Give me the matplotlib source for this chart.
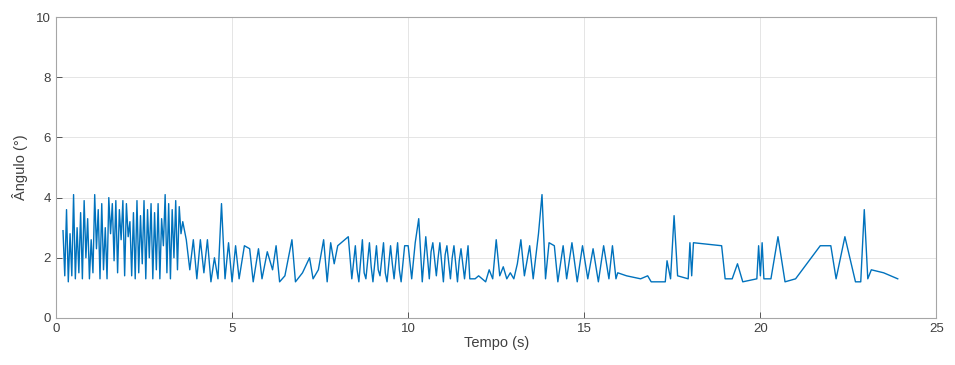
import matplotlib.pyplot as plt

# tempo (s) e angulo (graus)
tempo = [0.2, 0.25, 0.3, 0.35, 0.4, 0.45, 0.5, 0.55, 0.6, 0.65, 0.7, 0.75, 0.8, 0.85,
         0.9, 0.95, 1.0, 1.05, 1.1, 1.15, 1.2, 1.25, 1.3, 1.35, 1.4, 1.45, 1.5, 1.55,
         1.6, 1.65, 1.7, 1.75, 1.8, 1.85, 1.9, 1.95, 2.0, 2.05, 2.1, 2.15, 2.2, 2.25,
         2.3, 2.35, 2.4, 2.45, 2.5, 2.55, 2.6, 2.65, 2.7, 2.75, 2.8, 2.85, 2.9, 2.95,
         3.0, 3.05, 3.1, 3.15, 3.2, 3.25, 3.3, 3.35, 3.4, 3.45, 3.5, 3.55, 3.6,
         3.7, 3.8, 3.9, 4.0, 4.1, 4.2, 4.3, 4.4, 4.5, 4.6, 4.7, 4.8,
         4.9, 5.0, 5.1, 5.2, 5.35, 5.5, 5.6, 5.75, 5.85, 6.0, 6.15, 6.25, 6.35, 6.5, 6.6,
         6.7, 6.8, 7.0, 7.2, 7.3, 7.45, 7.6, 7.7, 7.8, 7.9, 8.0, 8.1, 8.3, 8.4, 8.5, 8.55,
         8.6, 8.7, 8.75, 8.8, 8.9, 8.95, 9.0, 9.1, 9.15, 9.2, 9.3, 9.35, 9.4, 9.5, 9.55,
         9.6, 9.7, 9.75, 9.8, 9.9, 10.0, 10.1, 10.2,
         10.3, 10.4, 10.5, 10.6, 10.65, 10.7, 10.8, 10.85, 10.9, 11.0, 11.05, 11.1, 11.2,
         11.25, 11.3, 11.4, 11.45, 11.5, 11.6,
         11.7, 11.75, 11.9, 12.0, 12.2, 12.3, 12.4, 12.5, 12.6, 12.7, 12.8, 12.9, 13.0, 13.1,
         13.2, 13.3, 13.45, 13.55, 13.7, 13.8, 13.9, 14.0, 14.15, 14.25, 14.4, 14.5, 14.65,
         14.8, 14.95, 15.1, 15.25, 15.4, 15.55, 15.7, 15.8, 15.9, 15.95, 16.2, 16.6, 16.8,
         16.9, 17.3, 17.35, 17.45, 17.55, 17.65, 17.95, 18.0, 18.05, 18.1, 18.9, 19.0, 19.2,
         19.35, 19.5, 19.9, 19.95, 20.0, 20.05, 20.1, 20.3, 20.5, 20.7, 21.0, 21.7, 22.0,
         22.15, 22.4, 22.7, 22.85, 22.95, 23.05, 23.15, 23.5, 23.9]
angulo = [2.9, 1.4, 3.6, 1.2, 2.8, 1.4, 4.1, 1.3, 3.0, 1.5, 3.5, 1.3, 3.9, 2.0,
          3.3, 1.3, 2.6, 1.5, 4.1, 2.3, 3.6, 1.3, 3.8, 1.6, 3.0, 1.3, 4.0, 2.8,
          3.8, 1.9, 3.9, 1.5, 3.6, 2.6, 3.9, 1.4, 3.8, 2.7, 3.2, 1.4, 3.5, 1.3,
          3.9, 1.5, 3.4, 1.8, 3.9, 1.3, 3.6, 2.0, 3.8, 1.3, 3.5, 1.6, 3.8, 1.3,
          3.3, 2.4, 4.1, 1.5, 3.8, 1.3, 3.6, 2.0, 3.9, 1.6, 3.7, 2.8, 3.2,
          2.6, 1.6, 2.6, 1.3, 2.6, 1.5, 2.6, 1.2, 2.0, 1.3, 3.8, 1.3,
          2.5, 1.2, 2.4, 1.3, 2.4, 2.3, 1.2, 2.3, 1.3, 2.2, 1.6, 2.4, 1.2, 1.4, 2.0,
          2.6, 1.2, 1.5, 2.0, 1.3, 1.6, 2.6, 1.2, 2.5, 1.8, 2.4, 2.5, 2.7, 1.3, 2.4, 1.6,
          1.2, 2.6, 1.5, 1.3, 2.5, 1.7, 1.2, 2.4, 1.6, 1.4, 2.5, 1.5, 1.2, 2.4, 1.8,
          1.3, 2.5, 1.6, 1.2, 2.4, 2.4, 1.3, 2.5,
          3.3, 1.2, 2.7, 1.3, 2.2, 2.5, 1.4, 2.0, 2.5, 1.2, 2.1, 2.4, 1.3,
          2.0, 2.4, 1.2, 1.9, 2.3, 1.3,
          2.4, 1.3, 1.3, 1.4, 1.2, 1.6, 1.3, 2.6, 1.4, 1.7, 1.3, 1.5, 1.3, 1.8,
          2.6, 1.4, 2.4, 1.3, 2.8, 4.1, 1.3, 2.5, 2.4, 1.2, 2.4, 1.3, 2.5,
          1.2, 2.4, 1.3, 2.3, 1.2, 2.4, 1.3, 2.4, 1.3, 1.5, 1.4, 1.3, 1.4,
          1.2, 1.2, 1.9, 1.3, 3.4, 1.4, 1.3, 2.5, 1.4, 2.5, 2.4, 1.3, 1.3,
          1.8, 1.2, 1.3, 2.4, 1.4, 2.5, 1.3, 1.3, 2.7, 1.2, 1.3, 2.4, 2.4,
          1.3, 2.7, 1.2, 1.2, 3.6, 1.3, 1.6, 1.5, 1.3]

plt.rcParams['font.family'] = ['Liberation Sans', 'DejaVu Sans']

fig = plt.figure(figsize=(9.55, 3.65), dpi=100)
ax = fig.add_axes([0.0586, 0.129, 0.922, 0.824])
ax.plot(tempo, angulo, color='#0072BD', linewidth=1.0)

ax.set_xlim(0, 25)
ax.set_ylim(0, 10)
ax.set_xticks([0, 5, 10, 15, 20, 25])
ax.set_yticks([0, 2, 4, 6, 8, 10])
ax.grid(True, color='#e0e0e0', linewidth=0.6)
ax.tick_params(direction='in', length=4, labelsize=9.5, colors='#404040', width=0.6)
for s in ax.spines.values():
    s.set_color('#a6a6a6')
    s.set_linewidth(0.8)
ax.set_xlabel('Tempo (s)', fontsize=10.5, color='#404040', labelpad=1)
ax.set_ylabel('Ângulo (°)', fontsize=10.5, color='#404040', labelpad=6)

fig.savefig('out.png', dpi=100)
